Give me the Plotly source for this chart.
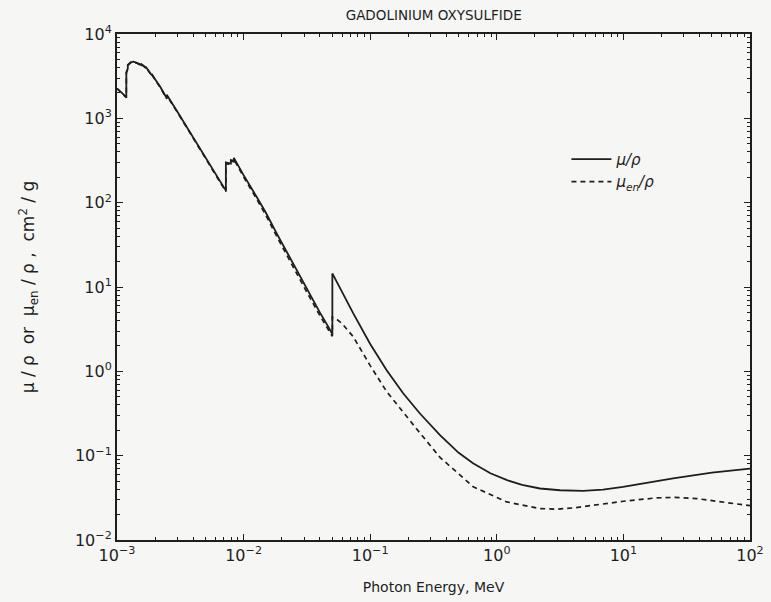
import plotly.graph_objects as go

# Photon energies (MeV) and mass attenuation coefficient mu/rho (cm^2/g).
# Absorption edges are listed twice so the curve jumps vertically there.
energy_mu = [
    1.000e-3, 1.070e-3, 1.135e-3, 1.185e-3, 1.185e-3, 1.217e-3, 1.217e-3,
    1.280e-3, 1.345e-3, 1.440e-3, 1.544e-3, 1.544e-3, 1.688e-3, 1.688e-3,
    1.881e-3, 1.881e-3, 2.000e-3, 2.200e-3, 2.472e-3, 2.472e-3, 3.000e-3,
    4.000e-3, 5.000e-3, 6.000e-3, 7.243e-3, 7.243e-3, 7.930e-3, 7.930e-3,
    8.376e-3, 8.376e-3, 1.000e-2, 1.270e-2, 1.500e-2, 1.824e-2, 2.000e-2,
    3.000e-2, 4.000e-2, 4.670e-2, 5.024e-2, 5.024e-2, 6.000e-2, 7.350e-2,
    1.000e-1, 1.349e-1, 1.820e-1, 2.470e-1, 3.560e-1, 5.000e-1, 6.490e-1,
    8.900e-1, 1.205e0, 1.585e0, 2.190e0, 3.160e0, 4.800e0, 6.900e0,
    9.930e0, 1.580e1, 2.470e1, 5.000e1, 1.000e2,
]
mu_rho = [
    2270, 2050, 1850, 1780, 3500, 3900, 4300,
    4600, 4690, 4550, 4300, 4450, 4000, 4100,
    3250, 3350, 2900, 2350, 1730, 1900, 1200,
    595, 343, 219, 139, 300, 290, 320,
    315, 340, 212, 117, 76.0, 43.3, 33.5,
    11.0, 5.00, 3.37, 2.76, 14.5, 8.73, 4.86,
    2.11, 1.03, 0.550, 0.316, 0.175, 0.108, 0.0815,
    0.0619, 0.0512, 0.0451, 0.0408, 0.0389, 0.0382, 0.0396,
    0.0426, 0.0482, 0.0538, 0.0628, 0.0702,
]

# Mass energy-absorption coefficient mu_en/rho (cm^2/g).
energy_mu_en = [
    1.000e-3, 1.070e-3, 1.135e-3, 1.185e-3, 1.185e-3, 1.217e-3, 1.217e-3,
    1.280e-3, 1.345e-3, 1.440e-3, 1.544e-3, 1.544e-3, 1.688e-3, 1.688e-3,
    1.881e-3, 1.881e-3, 2.000e-3, 2.200e-3, 2.472e-3, 2.472e-3, 3.000e-3,
    4.000e-3, 5.000e-3, 6.000e-3, 7.243e-3, 7.243e-3, 7.930e-3, 7.930e-3,
    8.376e-3, 8.376e-3, 1.000e-2, 1.270e-2, 1.500e-2, 1.824e-2, 2.000e-2,
    3.000e-2, 4.000e-2, 4.670e-2, 5.024e-2, 5.024e-2, 5.500e-2, 6.000e-2,
    7.350e-2, 1.000e-1, 1.349e-1, 2.470e-1, 3.560e-1, 6.520e-1, 1.197e0,
    2.190e0, 3.000e0, 4.020e0, 7.360e0, 1.000e1, 1.830e1, 2.500e1,
    3.780e1, 6.000e1, 9.400e1, 1.000e2,
]
mu_en_rho = [
    2250, 2030, 1830, 1760, 3450, 3850, 4250,
    4550, 4640, 4500, 4250, 4400, 3950, 4050,
    3200, 3300, 2860, 2310, 1700, 1860, 1180,
    583, 335, 213, 135, 292, 282, 310,
    305, 328, 202, 110, 71.0, 40.0, 30.8,
    10.0, 4.60, 3.20, 2.60, 4.40, 4.09, 3.68,
    2.57, 1.17, 0.575, 0.186, 0.0955, 0.0427, 0.0283,
    0.0236, 0.0232, 0.0240, 0.0271, 0.0288, 0.0316, 0.0320,
    0.0310, 0.0285, 0.0259, 0.0255,
]

# Decade tick positions and their power-of-ten labels
x_ticks = [1e-3, 1e-2, 1e-1, 1e0, 1e1, 1e2]
x_tick_text = ["10<sup>−3</sup>", "10<sup>−2</sup>", "10<sup>−1</sup>",
               "10<sup>0</sup>", "10<sup>1</sup>", "10<sup>2</sup>"]
y_ticks = [1e-2, 1e-1, 1e0, 1e1, 1e2, 1e3, 1e4]
y_tick_text = ["10<sup>−2</sup>", "10<sup>−1</sup>", "10<sup>0</sup>",
               "10<sup>1</sup>", "10<sup>2</sup>", "10<sup>3</sup>",
               "10<sup>4</sup>"]

# Minor ticks at 2..9 within each decade
x_minor = [m * 10.0 ** d for d in range(-3, 2) for m in range(2, 10)]
y_minor = [m * 10.0 ** d for d in range(-2, 4) for m in range(2, 10)]

ink = "#1e1e1e"
paper = "#f6f6f4"

fig = go.Figure()
fig.add_trace(go.Scatter(
    x=energy_mu, y=mu_rho, mode="lines", name="μ/ρ",
    line=dict(color=ink, width=1.8),
))
fig.add_trace(go.Scatter(
    x=energy_mu_en, y=mu_en_rho, mode="lines", name="μ<sub>en</sub>/ρ",
    line=dict(color=ink, width=1.7, dash="5px,4px"),
))

axis_common = dict(
    type="log", automargin=False,
    showline=True, linecolor=ink, linewidth=2, mirror="allticks",
    ticks="inside", ticklen=6, tickwidth=1.2, tickcolor=ink,
    tickmode="array",
    showgrid=False, zeroline=False,
    tickfont=dict(family="DejaVu Sans", size=16, color=ink),
)

fig.update_xaxes(
    **axis_common,
    range=[-3, 2], tickvals=x_ticks, ticktext=x_tick_text,
    minor=dict(tickmode="array", tickvals=x_minor, ticks="inside",
               ticklen=3, tickwidth=1, tickcolor=ink, showgrid=False),
    title=dict(text="Photon Energy, MeV", standoff=18,
               font=dict(family="DejaVu Sans", size=14, color=ink)),
)
fig.update_yaxes(
    **axis_common,
    range=[-2, 4], tickvals=y_ticks, ticktext=y_tick_text,
    minor=dict(tickmode="array", tickvals=y_minor, ticks="inside",
               ticklen=3, tickwidth=1, tickcolor=ink, showgrid=False),
    title=dict(text="μ / ρ  or  μ<sub>en</sub> / ρ ,  cm<sup>2</sup> / g",
               standoff=36,
               font=dict(family="DejaVu Sans", size=17, color=ink)),
)

fig.update_layout(
    width=771, height=602,
    margin=dict(l=117, r=21, t=34, b=62),
    paper_bgcolor=paper, plot_bgcolor=paper,
    title=dict(text="GADOLINIUM OXYSULFIDE", x=0.5625, xanchor="center",
               y=0.983, yanchor="top",
               font=dict(family="DejaVu Sans", size=13.5, color=ink)),
    legend=dict(
        x=0.71, y=0.785, xanchor="left", yanchor="top",
        bgcolor="rgba(0,0,0,0)", borderwidth=0,
        font=dict(family="DejaVu Sans", size=15, color=ink, style="italic"),
        tracegroupgap=0, itemwidth=40,
    ),
    showlegend=True,
)

fig.write_html("out.html")
